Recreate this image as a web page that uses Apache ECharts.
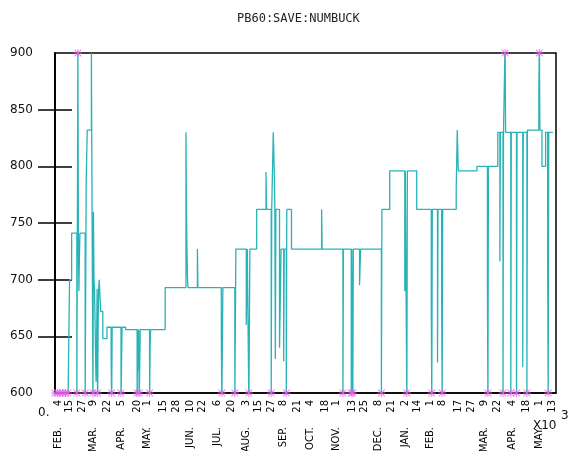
<!DOCTYPE html>
<html>
<head>
<meta charset="utf-8">
<script src="https://cdn.jsdelivr.net/npm/echarts@6/dist/echarts.min.js"></script>
<style>
  html, body { margin: 0; padding: 0; background: #fff; }
  #chart { width: 572px; height: 451px; }
</style>
</head>
<body>
<div id="chart"></div>
<script>
// ---- data (x = days since 1 Feb 1960) ----
const titleText = 'PB60:SAVE:NUMBUCK';

const dayTicks = [3,14,26,37,50,64,79,89,104,117,130,142,156,170,184,196,208,220,233,246,260,271,286,298,311,324,337,349,361,373,388,401,413,426,440,454,466,479];
const dayTickLabels = ['4','15','27','9','22','5','20','1','15','28','10','22','6','20','3','15','27','8','21','4','18','1','13','25','8','21','2','14','1','8','17','27','9','22','4','18','1','13'];

const monthDays = [3,37,64,89,130,156,184,220,246,271,311,337,361,413,440,466];
const monthNames = ['FEB.','MAR.','APR.','MAY.','JUN.','JUL.','AUG.','SEP.','OCT.','NOV.','DEC.','JAN.','FEB.','MAR.','APR.','MAY.'];

const yTicks = [650, 700, 750, 800, 850];

const stepDays = [
  0,2.5,5,7.5,10,12.5,14,16,21,21.5,22,22.5,23,23.5,24,29,30,31,35,35.5,36.5,37,37.5,38,
  39.5,40,40.5,41,41.5,42,42.5,44,46,50,54,54.5,55,63.5,64.5,68,79,79.5,80,80.5,81,82,91,91.5,92,
  106,126,126.5,127,127.5,128,137,137.5,160,160.5,161.5,173,174,184,185,186.5,187.5,
  194,203,203.5,208,208.5,210,211,211.5,212,212.5,216,217.5,220,220.5,222.5,223,227.5,
  256.5,257,277,277.5,285,285.5,286.5,287,293,294,314,314.5,322,336.5,337,338.5,339,
  348,362,362.5,363,368,368.5,372,372.5,373,386,387,388,406,416,416.5,417,
  426,428,428.5,431,431.5,433,433.5,438.5,439,444,444.5,450,450.5,454,454.5,
  465.5,466,466.5,468.5,472,474,474.5,475,479
];
const stepValues = [
  590,590,590,590,590,590,700,741,590,741,910,741,690,720,741,590,786,832,900,795,590,760,700,692,
  610,640,692,590,660,692,700,672,648,658,630,590,658,590,658,656,590,656,620,656,590,656,590,640,656,
  693,830,760,725,700,693,727,693,650,590,693,590,727,660,727,590,727,
  762,795,762,590,762,830,795,762,630,762,640,727,628,727,590,762,727,
  762,727,590,727,590,727,590,727,695,727,590,762,796,690,796,590,796,
  762,680,590,762,627,762,680,590,762,780,832,796,800,700,590,800,
  830,716,830,590,830,910,830,590,830,590,830,623,830,590,832,
  867,910,832,800,830,716,590,830,830
];

const Y_MIN = 600, Y_MAX = 900;
const X_MIN = 0, X_MAX = 482;

const lineData = stepDays.map((d, i) => [d, stepValues[i]]);
const starData = [];
stepDays.forEach((d, i) => {
  const v = stepValues[i];
  if (v < Y_MIN) starData.push([d, Y_MIN]);
  else if (v > Y_MAX) starData.push([d, Y_MAX]);
});

const asterisk = 'path://M4.4 0L5.6 0L5.6 10L4.4 10Z M0 4.4L10 4.4L10 5.6L0 5.6Z M0.4 1.2L1.2 0.4L9.6 8.8L8.8 9.6Z M8.8 0.4L9.6 1.2L1.2 9.6L0.4 8.8Z';

const font = 'DejaVu Sans';
const chart = echarts.init(document.getElementById('chart'), null, { renderer: 'canvas' });
chart.setOption({
  animation: false,
  backgroundColor: '#ffffff',
  title: {
    text: titleText,
    left: 232, top: 8,
    textStyle: { fontFamily: 'DejaVu Sans Mono', fontSize: 12, fontWeight: 'normal', color: '#222' }
  },
  grid: {
    left: 55, right: 16, top: 53, bottom: 58,
    containLabel: false, outerBoundsMode: 'none',
    show: true, borderColor: '#000', borderWidth: 1.5, backgroundColor: 'transparent'
  },
  xAxis: [
    {
      type: 'value', min: X_MIN, max: X_MAX, position: 'bottom',
      axisLine: { show: true, lineStyle: { color: '#000', width: 1.5 } },
      axisTick: { show: false },
      splitLine: { show: false },
      axisLabel: {
        customValues: dayTicks,
        formatter: v => dayTickLabels[dayTicks.indexOf(v)] || '',
        rotate: 90, margin: 7, fontSize: 10, fontFamily: font, color: '#000'
      }
    },
    {
      type: 'value', min: X_MIN, max: X_MAX, position: 'bottom',
      axisLine: { show: false }, axisTick: { show: false }, splitLine: { show: false },
      axisLabel: {
        customValues: monthDays,
        formatter: v => monthNames[monthDays.indexOf(v)] || '',
        rotate: 90, margin: 34, fontSize: 10, fontFamily: font, color: '#000'
      }
    }
  ],
  yAxis: [
    {
      type: 'value', min: Y_MIN, max: Y_MAX, interval: 50, position: 'left',
      axisLine: { show: true, lineStyle: { color: '#000', width: 1.5 } },
      axisTick: { show: true, customValues: yTicks, length: 17, lineStyle: { color: '#000', width: 1.5 } },
      splitLine: { show: false },
      axisLabel: { margin: 22, fontSize: 12, fontFamily: font, color: '#111' }
    },
    {
      type: 'value', min: Y_MIN, max: Y_MAX, interval: 50, position: 'right',
      axisLine: { show: true, lineStyle: { color: '#000', width: 1.5 } },
      axisTick: { show: true, customValues: yTicks, length: 17, lineStyle: { color: '#000', width: 1.5 } },
      splitLine: { show: false },
      axisLabel: { show: false }
    }
  ],
  graphic: [
    { type: 'text', left: 38, top: 407, style: { text: '0.', fontSize: 12, fontFamily: font, fill: '#111' } },
    { type: 'text', left: 533, top: 420, style: { text: 'X10', fontSize: 12, fontFamily: font, fill: '#111' } },
    { type: 'text', left: 561, top: 410, style: { text: '3', fontSize: 12, fontFamily: font, fill: '#111' } }
  ],
  series: [
    {
      type: 'line', step: 'end', data: lineData, xAxisIndex: 0, yAxisIndex: 0,
      symbol: 'none', clip: true,
      lineStyle: { color: '#2ab3b6', width: 1.3 }
    },
    {
      type: 'scatter', data: starData, xAxisIndex: 0, yAxisIndex: 0,
      symbol: asterisk, symbolSize: 8, clip: false,
      itemStyle: { color: '#e45ce6' }, z: 5
    }
  ]
});
</script>
</body>
</html>
